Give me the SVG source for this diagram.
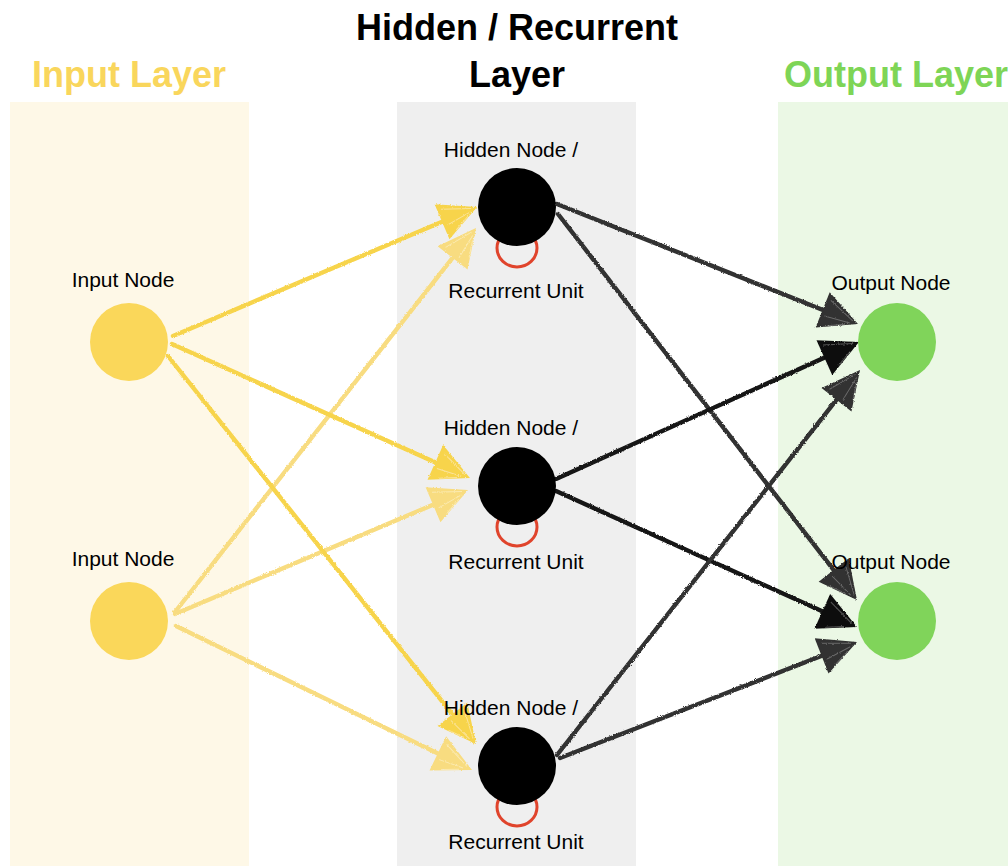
<svg xmlns="http://www.w3.org/2000/svg" width="1008" height="866" viewBox="0 0 1008 866">
  <style>
    .title { font-family: "Liberation Sans", Arial, sans-serif; font-weight: bold; font-size: 36px; text-anchor: middle; }
    .label { font-family: "Liberation Sans", Arial, sans-serif; font-size: 21px; text-anchor: middle; fill: #000; }
    .edge { fill: none; stroke-width: 4.4; stroke-linecap: round; }
    .in-strong { stroke: #F7D44C; marker-end: url(#head-yellow); }
    .in-pale { stroke: #F8DC80; marker-end: url(#head-pale); }
    .out-gray { stroke: #303030; marker-end: url(#head-gray); }
    .out-dark { stroke: #141414; marker-end: url(#head-dark); }
    .loop { fill: none; stroke: #E0442C; stroke-width: 3; }
  </style>
  <defs>
    <filter id="rough" x="-5%" y="-5%" width="110%" height="110%">
      <feTurbulence type="fractalNoise" baseFrequency="0.9" numOctaves="2" seed="3" result="noise"/>
      <feDisplacementMap in="SourceGraphic" in2="noise" scale="2.5" xChannelSelector="R" yChannelSelector="G"/>
    </filter>
    <marker id="head-yellow" markerUnits="userSpaceOnUse" viewBox="-34 -21 42 42" markerWidth="42" markerHeight="42" refX="0" refY="0" orient="auto">
      <path d="M6,0 L-32,-19 L-32,19 Z" fill="#F7D44C"/>
      <path d="M-28,-12 L0,-1 M-28,5 L-2,2 M-22,13 L-6,5" stroke="#FBE49A" stroke-width="1" fill="none"/>
    </marker>
    <marker id="head-pale" markerUnits="userSpaceOnUse" viewBox="-34 -21 42 42" markerWidth="42" markerHeight="42" refX="0" refY="0" orient="auto">
      <path d="M6,0 L-32,-19 L-32,19 Z" fill="#F8DC80"/>
      <path d="M-28,-12 L0,-1 M-28,5 L-2,2 M-22,13 L-6,5" stroke="#FBEAB0" stroke-width="1" fill="none"/>
    </marker>
    <marker id="head-gray" markerUnits="userSpaceOnUse" viewBox="-34 -21 42 42" markerWidth="42" markerHeight="42" refX="0" refY="0" orient="auto">
      <path d="M6,0 L-32,-19 L-32,19 Z" fill="#303030"/>
      <path d="M-28,-12 L0,-1 M-28,5 L-2,2 M-22,13 L-6,5" stroke="#6a6a6a" stroke-width="1" fill="none"/>
    </marker>
    <marker id="head-dark" markerUnits="userSpaceOnUse" viewBox="-34 -21 42 42" markerWidth="42" markerHeight="42" refX="0" refY="0" orient="auto">
      <path d="M6,0 L-32,-19 L-32,19 Z" fill="#111"/>
      <path d="M-28,-12 L0,-1 M-22,13 L-6,5" stroke="#555" stroke-width="1" fill="none"/>
    </marker>
  </defs>

  <rect width="1008" height="866" fill="#ffffff"/>

  <!-- layer backgrounds -->
  <g id="layer-bands">
    <rect x="10" y="102" width="239" height="764" fill="#FEF8E7"/>
    <rect x="397" y="102" width="239" height="764" fill="#EFEFEF"/>
    <rect x="778" y="102" width="230" height="764" fill="#EBF8E5"/>
  </g>

  <!-- layer titles -->
  <g id="titles">
    <text class="title" x="129" y="87" fill="#F9D65C">Input Layer</text>
    <text class="title" x="517" y="40" fill="#000">Hidden / Recurrent</text>
    <text class="title" x="517" y="87" fill="#000">Layer</text>
    <text class="title" x="896" y="87" fill="#7ED556">Output Layer</text>
  </g>

  <!-- connectors -->
  <g id="connectors" filter="url(#rough)">
    <path class="edge in-strong" d="M173,336 L471.5,209.3"/>
    <path class="edge in-pale" d="M175,612 L472.3,232.7"/>
    <path class="edge in-strong" d="M172,344 L464.5,475.5"/>
    <path class="edge in-pale" d="M175,614 L462.5,492.3"/>
    <path class="edge in-strong" d="M168,356 L472.3,739.3"/>
    <path class="edge in-pale" d="M176,626 L466.6,767.4"/>

    <path class="edge out-gray" d="M557,204 L852.4,321.8"/>
    <path class="edge out-gray" d="M558,214 L853.3,595.3"/>
    <path class="edge out-dark" d="M556,479 L853.5,344.5"/>
    <path class="edge out-dark" d="M556,491 L851.5,624.5"/>
    <path class="edge out-gray" d="M557,755 L856.3,374.7"/>
    <path class="edge out-gray" d="M560,758 L851.4,644.2"/>
  </g>

  <!-- input nodes -->
  <g id="input-1">
    <circle cx="129" cy="342" r="39" fill="#FAD75A"/>
    <text class="label" x="123" y="287">Input Node</text>
  </g>
  <g id="input-2">
    <circle cx="129" cy="621" r="39" fill="#FAD75A"/>
    <text class="label" x="123" y="566">Input Node</text>
  </g>

  <!-- hidden / recurrent nodes -->
  <g id="hidden-1">
    <ellipse class="loop" cx="517" cy="248" rx="20" ry="19"/>
    <circle cx="517" cy="207" r="39" fill="#000"/>
    <text class="label" x="511" y="157">Hidden Node /</text>
    <text class="label" x="516" y="298">Recurrent Unit</text>
  </g>
  <g id="hidden-2">
    <ellipse class="loop" cx="517" cy="527" rx="20" ry="19"/>
    <circle cx="517" cy="486" r="39" fill="#000"/>
    <text class="label" x="511" y="435">Hidden Node /</text>
    <text class="label" x="516" y="569">Recurrent Unit</text>
  </g>
  <g id="hidden-3">
    <ellipse class="loop" cx="517" cy="807" rx="20" ry="19"/>
    <circle cx="517" cy="766" r="39" fill="#000"/>
    <text class="label" x="511" y="715">Hidden Node /</text>
    <text class="label" x="516" y="849">Recurrent Unit</text>
  </g>

  <!-- output nodes -->
  <g id="output-1">
    <circle cx="897" cy="342" r="39" fill="#80D45A"/>
    <text class="label" x="891" y="290">Output Node</text>
  </g>
  <g id="output-2">
    <circle cx="897" cy="621" r="39" fill="#80D45A"/>
    <text class="label" x="891" y="569">Output Node</text>
  </g>
</svg>
